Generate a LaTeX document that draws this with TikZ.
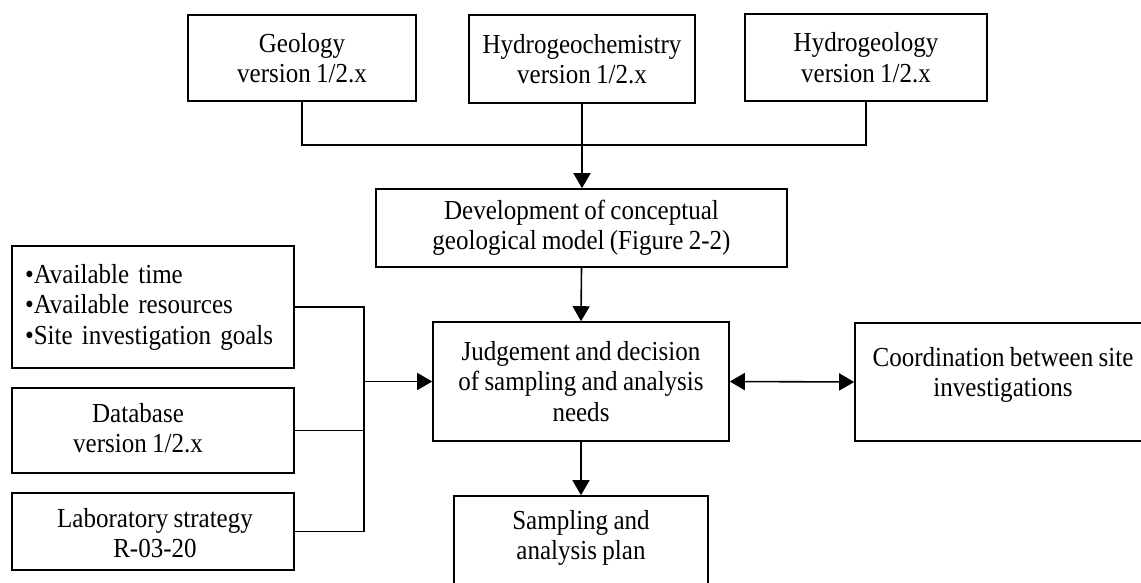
\documentclass[tikz,border=0pt]{standalone}
\usepackage{fontspec}
\setmainfont{Liberation Serif}[FakeStretch=0.91, WordSpace=0.85]
\usetikzlibrary{arrows.meta}
\begin{document}
\begin{tikzpicture}[x=1pt,y=-1pt,
  box/.style={draw, line width=1.6pt, inner sep=0pt, align=center,
    font=\fontsize{27.5}{30.5}\selectfont, anchor=center},
  txt/.style={inner sep=0pt, align=center, font=\fontsize{27.5}{30.5}\selectfont},
  conn/.style={line width=1.6pt},
  arr/.style={line width=1.6pt, -{Triangle[length=15pt,width=17pt]}},
  darr/.style={line width=1.6pt, {Triangle[length=15pt,width=17pt]}-{Triangle[length=15pt,width=17pt]}},
]
\useasboundingbox (0,0) rectangle (1141,583);

% top row
\node[box, minimum width=228pt, minimum height=86pt] (geo) at (302,58) {Geology\\version 1/2.x};
\node[box, minimum width=226pt, minimum height=88pt] (hchem) at (582,59) {Hydrogeochemistry\\version 1/2.x};
\node[box, minimum width=242pt, minimum height=87pt] (hgeo) at (866,57.5) {Hydrogeology\\version 1/2.x};

% middle column
\node[box, minimum width=411pt, minimum height=78pt] (dev) at (581.5,228) {Development of conceptual\\geological model (Figure 2-2)};
\node[box, minimum width=296pt, minimum height=119pt] (judg) at (581,381.5) {Judgement and decision\\of sampling and analysis\\needs};
\node[box, minimum width=254pt, minimum height=104pt] (samp) at (581,548) {};
\node[txt] (samptxt) at (581,538) {Sampling and\\analysis plan};

% right
\node[box, minimum width=295pt, minimum height=118pt] (coord) at (1002.5,382) {};
\node[txt] (coordtxt) at (1003,375) {Coordination between site\\investigations};

% left column
\node[box, align=left, text width=256pt, inner xsep=13pt, minimum height=122pt] (l1) at (153,307) {•Available time\\•Available resources\\•Site investigation goals};
\node[box, minimum width=282pt, minimum height=85pt] (l2) at (153,430.5) {};
\node[txt] (l2txt) at (138,428) {Database\\version 1/2.x};
\node[box, minimum width=282pt, minimum height=77pt] (l3) at (153,531.5) {};
\node[txt] (l3txt) at (155,533) {Laboratory strategy\\R-03-20};

% connectors top
\coordinate (bus) at (582,145);
\draw[conn] (geo.south) |- (bus) -| (hgeo.south);
\draw[arr] (hchem.south) -- (hchem.south |- dev.north);
\draw[arr] (dev.south) -- (judg.north);
\draw[arr] (judg.south) -- (samp.north);
\draw[darr] (judg.east) -- (coord.west);

% connectors left
\coordinate (join) at (364,381.5);
\draw[conn] (l1.east) -| (join);
\draw[conn] (l2.east) -| (join);
\draw[conn] (l3.east) -| (join);
\draw[arr] (join) -- (judg.west);
\end{tikzpicture}
\end{document}
